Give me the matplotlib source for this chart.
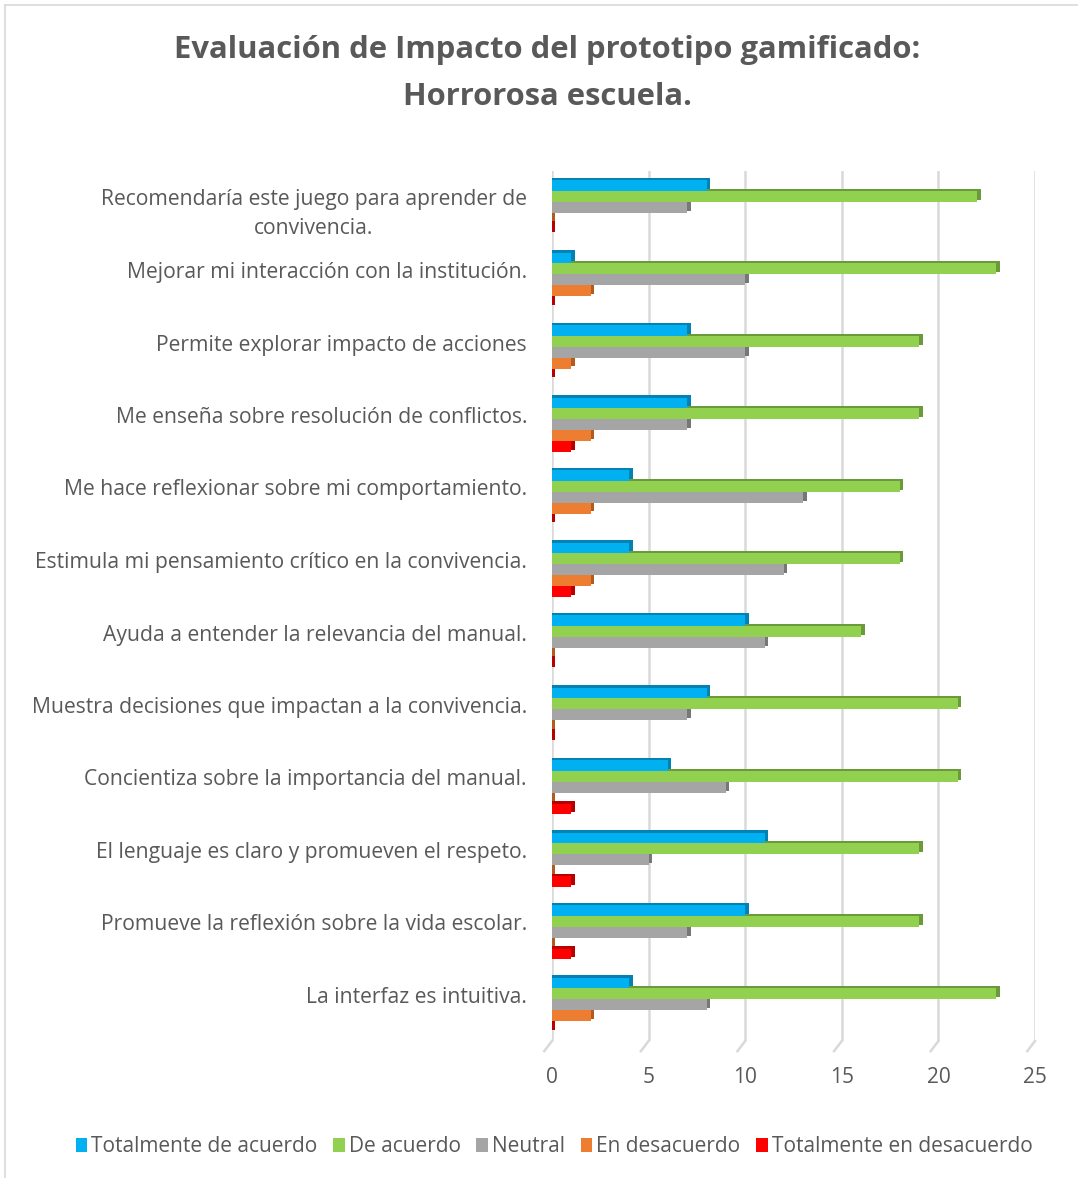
import numpy as np
import matplotlib
matplotlib.use("Agg")
import matplotlib.pyplot as plt
from matplotlib.patches import Patch
from matplotlib.lines import Line2D

# categories, top to bottom as in the chart
categories = [
    "Recomendaría este juego para aprender de\nconvivencia.",
    "Mejorar mi interacción con la institución.",
    "Permite explorar impacto de acciones",
    "Me enseña sobre resolución de conflictos.",
    "Me hace reflexionar sobre mi comportamiento.",
    "Estimula mi pensamiento crítico en la convivencia.",
    "Ayuda a entender la relevancia del manual.",
    "Muestra decisiones que impactan a la convivencia.",
    "Concientiza sobre la importancia del manual.",
    "El lenguaje es claro y promueven el respeto.",
    "Promueve la reflexión sobre la vida escolar.",
    "La interfaz es intuitiva.",
]
series_names = ["Totalmente de acuerdo", "De acuerdo", "Neutral",
                "En desacuerdo", "Totalmente en desacuerdo"]
tot_acuerdo = [8, 1, 7, 7, 4, 4, 10, 8, 6, 11, 10, 4]
de_acuerdo = [22, 23, 19, 19, 18, 18, 16, 21, 21, 19, 19, 23]
neutral = [7, 10, 10, 7, 13, 12, 11, 7, 9, 5, 7, 8]
en_desacuerdo = [0, 2, 1, 2, 2, 2, 0, 0, 0, 0, 0, 2]
tot_desacuerdo = [0, 0, 0, 1, 0, 1, 0, 0, 1, 1, 1, 0]
ticks = [0, 5, 10, 15, 20, 25]

values = [tot_acuerdo, de_acuerdo, neutral, en_desacuerdo, tot_desacuerdo]
colors = ["#00B0F0", "#92D050", "#A5A5A5", "#ED7D31", "#FF0000"]
dark = ["#0083B4", "#6B9A3B", "#777777", "#B35A1F", "#B80000"]
txt = "#595959"

plt.rcParams['font.family'] = ['Open Sans', 'DejaVu Sans']

W, H = 1078, 1178
fig = plt.figure(figsize=(W / 100, H / 100), dpi=100)
ax = fig.add_axes([552 / W, 1 - 1041 / H, (1035 - 552) / W, (1041 - 171) / H])

y = np.arange(len(categories))
bh = 0.15
dx, dy = 0.18, 0.03
for k, (vals, c, d) in enumerate(zip(values, colors, dark)):
    pos = y - 2 * bh + k * bh
    v = np.array(vals, dtype=float)
    # depth face (top strip + right side)
    ax.barh(pos - dy, v + dx, height=bh, left=0, color=d, zorder=2)
    ax.barh(pos, v, height=bh, left=0, color=c, zorder=3)

ax.set_xlim(0, 25)
ax.set_ylim(len(categories) - 0.5, -0.5)
ax.set_xticks(ticks)
ax.set_yticks([])
ax.set_xticklabels([str(t) for t in ticks], fontsize=15, color=txt)
ax.tick_params(axis='x', length=0, pad=19)
for s in ax.spines.values():
    s.set_visible(False)
for t in ticks:
    ax.axvline(t, color="#D9D9D9", lw=1.8, zorder=1)
    ax.plot([t, t - 0.4], [len(categories) - 0.5, len(categories) - 0.36],
            color="#D9D9D9", lw=1.8, clip_on=False, zorder=1)

tr = ax.get_yaxis_transform()
for i, lab in enumerate(categories):
    off = 0.09 if "\n" in lab else -0.1
    ax.text(-25 / 483, i + off, lab, transform=tr, ha='right', va='center',
            multialignment='center', fontsize=15.2, color=txt, linespacing=1.5)

fig.text(0.508, 1 - 50 / H, "Evaluación de Impacto del prototipo gamificado:",
         ha='center', va='center', fontsize=22.3, fontweight='bold', color=txt)
fig.text(0.508, 1 - 97 / H, "Horrorosa escuela.",
         ha='center', va='center', fontsize=22.3, fontweight='bold', color=txt)

handles = [Patch(facecolor=c, edgecolor='none') for c in colors]
fig.legend(handles, series_names, loc='center', bbox_to_anchor=(0.514, 1 - 1147 / H),
           ncol=5, frameon=False, fontsize=15, handlelength=0.55, handleheight=0.65,
           handletextpad=0.2, columnspacing=0.75, labelcolor=txt)

fig.add_artist(Line2D([5 / W, 5 / W], [0, 1 - 5 / H], color="#D9D9D9", lw=1.2))
fig.add_artist(Line2D([5 / W, 1], [1 - 5 / H, 1 - 5 / H], color="#D9D9D9", lw=1.2))

fig.savefig("out.png", dpi=100)
